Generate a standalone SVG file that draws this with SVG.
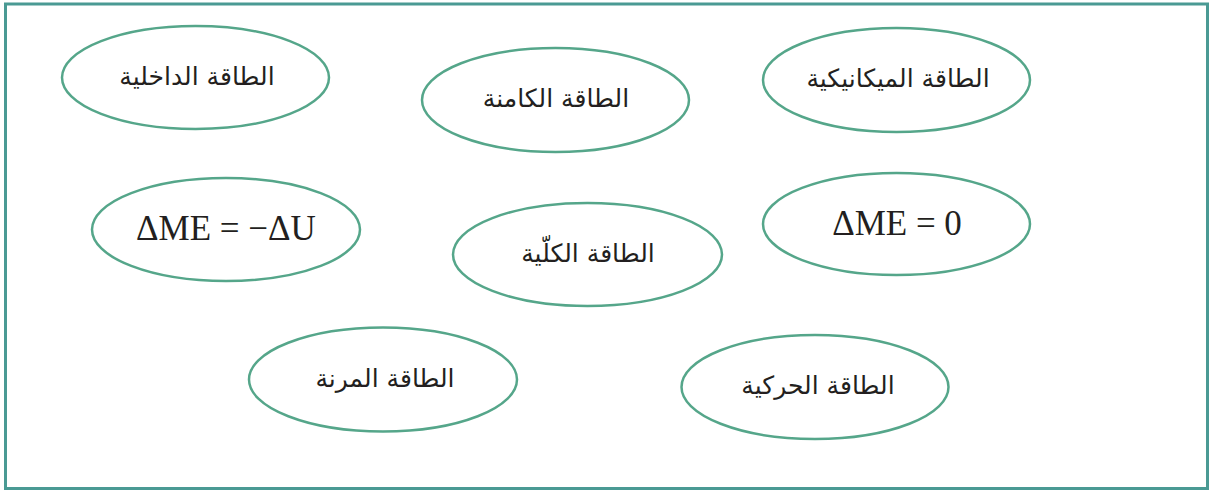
<svg xmlns="http://www.w3.org/2000/svg" width="1214" height="493" viewBox="0 0 1214 493">
<style>
.node ellipse{fill:#fff;stroke:#55a68a;stroke-width:2.5}
.ar{font-family:"DejaVu Sans",sans-serif;font-size:25px;fill:#231f20;text-anchor:middle;direction:rtl}
.m{font-family:"Liberation Serif",serif;font-size:35px;fill:#231f20;text-anchor:middle}
</style>
<rect x="0" y="0" width="1214" height="493" fill="#fff"/>
<rect x="5.5" y="4" width="1202" height="484.5" fill="none" stroke="#4a9a94" stroke-width="3"/>
<g id="connectors"></g>
<g id="n1" class="node"><ellipse cx="195.5" cy="77.5" rx="133.5" ry="51.5"/><text class="ar" x="197" y="85">الطاقة الداخلية</text></g>
<g id="n2" class="node"><ellipse cx="555.5" cy="100" rx="133.5" ry="52"/><text class="ar" x="556" y="107">الطاقة الكامنة</text></g>
<g id="n3" class="node"><ellipse cx="896.5" cy="80" rx="133.5" ry="52"/><text class="ar" x="898" y="87">الطاقة الميكانيكية</text></g>
<g id="n4" class="node"><ellipse cx="226" cy="229.5" rx="134" ry="51.5"/><text class="m" x="226" y="240">ΔME = −ΔU</text></g>
<g id="n5" class="node"><ellipse cx="587.5" cy="254.5" rx="134.5" ry="51.5"/><text class="ar" x="588" y="262">الطاقة الكلّية</text></g>
<g id="n6" class="node"><ellipse cx="896.5" cy="224" rx="133.5" ry="51"/><text class="m" x="897" y="235">ΔME = 0</text></g>
<g id="n7" class="node"><ellipse cx="383" cy="379.5" rx="134" ry="52"/><text class="ar" x="385" y="387">الطاقة المرنة</text></g>
<g id="n8" class="node"><ellipse cx="815" cy="387" rx="133.5" ry="52"/><text class="ar" x="818" y="394">الطاقة الحركية</text></g>
</svg>
